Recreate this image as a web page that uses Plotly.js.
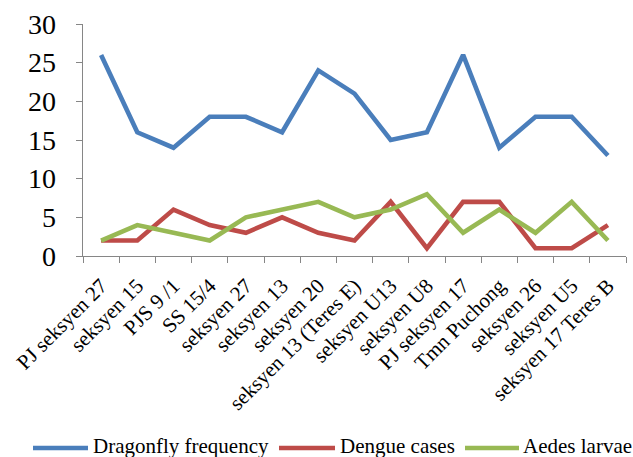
<!DOCTYPE html>
<html>
<head>
<meta charset="utf-8">
<script src="https://cdn.plot.ly/plotly-3.0.1.min.js"></script>
<style>html,body{margin:0;padding:0;background:#fff;}#chart{width:633px;height:457px;}</style>
</head>
<body>
<div id="chart"></div>
<script>
const categories = ["PJ seksyen 27","seksyen 15","PJS 9 /1","SS 15/4","seksyen 27","seksyen 13","seksyen 20","seksyen 13 (Teres E)","seksyen U13","seksyen U8","PJ seksyen 17","Tmn Puchong","seksyen 26","seksyen U5","seksyen 17 Teres B"];
const dragonfly = [26,16,14,18,18,16,24,21,15,16,26,14,18,18,13];
const dengue = [2,2,6,4,3,5,3,2,7,1,7,7,1,1,4];
const aedes = [2,4,3,2,5,6,7,5,6,8,3,6,3,7,2];
const seriesNames = ["Dragonfly frequency","Dengue cases","Aedes larvae"];
const colors = ["#4A7EBB","#BE4B48","#98B954"];
const vals = [dragonfly, dengue, aedes];

const W = 633, H = 457;
const M = {l:83, r:7, t:24, b:201};
const pw = W - M.l - M.r, ph = H - M.t - M.b;
const px2x = p => (p - M.l) / pw;
const px2y = p => (H - M.b - p) / ph;

const traces = vals.map((v,i)=>({
  x: categories, y: v, type:'scatter', mode:'lines', name: seriesNames[i],
  line:{color:colors[i], width:4.6}, showlegend:false
}));

// manual legend (single row like the reference)
const legendY = 446;
const legendItems = [
  {x0:33, x1:88, tx:92},
  {x0:279, x1:335, tx:339},
  {x0:465, x1:519, tx:522}
];
const shapes = legendItems.map((it,i)=>({
  type:'line', xref:'paper', yref:'paper',
  x0:px2x(it.x0), x1:px2x(it.x1), y0:px2y(legendY+2), y1:px2y(legendY+2),
  line:{color:colors[i], width:4.6}
}));
const annotations = legendItems.map((it,i)=>({
  xref:'paper', yref:'paper', x:px2x(it.tx), y:px2y(legendY),
  xanchor:'left', yanchor:'middle', showarrow:false, text:seriesNames[i],
  font:{size:21, color:'#000'}, borderpad:0
}));

const layout = {
  width:W, height:H,
  margin:M,
  paper_bgcolor:'#fff', plot_bgcolor:'#fff',
  font:{family:'Liberation Serif, Times New Roman, serif', color:'#000', size:21},
  showlegend:false,
  shapes, annotations,
  xaxis:{type:'category', range:[-0.5,14.5], showline:true, linecolor:'#868686', linewidth:1.3,
    ticks:'outside', tickson:'boundaries', ticklen:6, tickcolor:'#868686', tickangle:-45,
    showgrid:false, zeroline:false, tickfont:{size:21}, ticklabelstandoff:8, automargin:false},
  yaxis:{range:[0,30], dtick:5, showline:true, linecolor:'#868686', linewidth:1.3,
    ticks:'outside', ticklen:6, tickcolor:'#868686', showgrid:false, zeroline:false,
    tickfont:{size:28}, ticklabelstandoff:14, automargin:false}
};
Plotly.newPlot('chart', traces, layout, {displayModeBar:false, staticPlot:true});
</script>
</body>
</html>
